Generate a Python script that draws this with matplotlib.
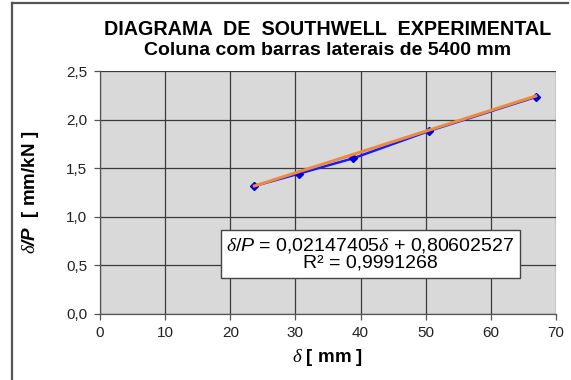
import numpy as np
import matplotlib
matplotlib.use('Agg')
import matplotlib.pyplot as plt
from matplotlib.lines import Line2D

# 데이터 (Southwell diagram)
delta = [23.7, 30.6, 38.9, 50.5, 66.9]        # deflection [mm]
delta_p = [1.315, 1.443, 1.601, 1.882, 2.233]  # delta/P [mm/kN]
slope = 0.02147405
intercept = 0.80602527
r2 = 0.9991268

xticks = [0, 10, 20, 30, 40, 50, 60, 70]
yticks = [0.0, 0.5, 1.0, 1.5, 2.0, 2.5]

plt.rcParams['font.family'] = ['Liberation Sans', 'DejaVu Sans']
plt.rcParams['mathtext.fontset'] = 'custom'
plt.rcParams['mathtext.rm'] = 'Liberation Sans'
plt.rcParams['mathtext.it'] = 'Liberation Sans:italic'
plt.rcParams['mathtext.bf'] = 'Liberation Sans:bold:italic'
plt.rcParams['mathtext.sf'] = 'Liberation Serif:italic'

fig = plt.figure(figsize=(5.71, 3.80), dpi=100)
ax = fig.add_axes([0.1751, 0.175, 0.7986, 0.638])
ax.set_facecolor('#d9d9d9')

# 선 + 추세선
ax.plot(delta, delta_p, color='#1a1aff', lw=1.8, marker='D', ms=4.5,
        mec='#0000e0', mfc='#0000e0', zorder=3)
xf = np.array([delta[0], delta[-1]])
ax.plot(xf, slope * xf + intercept, color='#ee8a3c', lw=2.2, zorder=4)

ax.set_xlim(0, 70)
ax.set_ylim(0, 2.5)
ax.set_xticks(xticks)
ax.set_yticks(yticks)
ax.set_xticklabels([str(t) for t in xticks])
ax.set_yticklabels([f'{t:.1f}'.replace('.', ',') for t in yticks])
ax.grid(True, color='#3a3a3a', lw=0.9)
ax.set_axisbelow(True)
ax.tick_params(direction='out', length=4, width=0.9, color='#555555',
               labelsize=11, labelcolor='#222222')
ax.tick_params(axis='y', pad=5)
ax.tick_params(axis='x', pad=5)
for s in ['top', 'right']:
    ax.spines[s].set_visible(False)
for s in ['left', 'bottom']:
    ax.spines[s].set_color('#555555')
    ax.spines[s].set_linewidth(0.9)

# 제목
fig.text(0.574, 0.923, 'DIAGRAMA  DE  SOUTHWELL  EXPERIMENTAL', ha='center', va='center',
         fontsize=14.2, fontweight='bold')
fig.text(0.574, 0.866, 'Coluna com barras laterais de 5400 mm', ha='center', va='center',
         fontsize=14, fontweight='bold')

ax.set_xlabel(r'$\mathsf{\delta}$ [ mm ]', fontsize=13.5, fontweight='bold', labelpad=5)
ax.set_ylabel(r'$\mathsf{\delta}\mathbf{/P}$  [ mm/kN ]', fontsize=13.5, fontweight='bold',
              labelpad=8)
ax.yaxis.set_label_coords(-0.13, 0.5)

ax.text(0.593, 0.246,
        r'$\mathsf{\delta}\mathit{/P}$ = 0,02147405$\mathsf{\delta}$ + 0,80602527' + '\n'
        + 'R² = ' + f'{r2}'.replace('.', ','),
        transform=ax.transAxes, ha='center', va='center', fontsize=14,
        linespacing=1.0, zorder=5,
        bbox=dict(boxstyle='square,pad=0.3', fc='white', ec='#444444', lw=1))

# 외곽 테두리
fig.add_artist(Line2D([12 / 571, 12 / 571], [0, 1 - 3 / 380], color='#555555', lw=1.6))
fig.add_artist(Line2D([12 / 571, 568 / 571], [1 - 3 / 380, 1 - 3 / 380], color='#555555', lw=1.6))

plt.savefig('out.png', dpi=100)
